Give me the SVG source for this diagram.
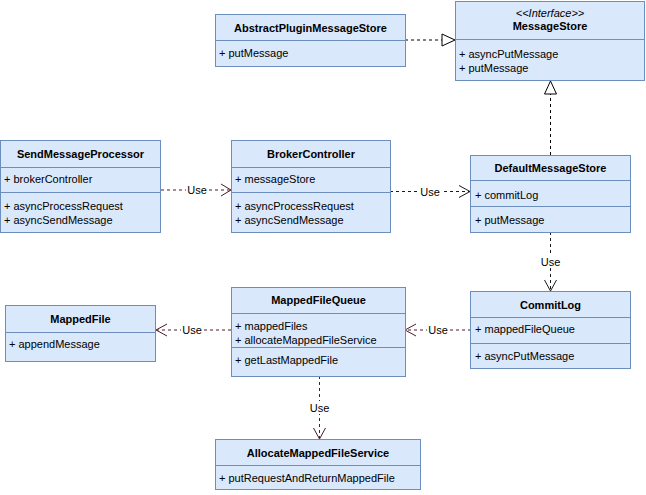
<svg xmlns="http://www.w3.org/2000/svg" width="646" height="495" viewBox="0 0 646 495">
<defs>
<style>
.box{fill:#dae8fc;stroke:#6c8ebf;stroke-width:1}
.div{stroke:#6c8ebf;stroke-width:1}
.t{font-family:"Liberation Sans",Arial,sans-serif;font-size:11px;font-weight:bold;fill:#000;text-anchor:middle}
.m{font-family:"Liberation Sans",Arial,sans-serif;font-size:11px;fill:#000}
.i{font-family:"Liberation Sans",Arial,sans-serif;font-size:11px;font-style:italic;fill:#000;text-anchor:middle}
.use{fill:none;stroke:#4d1a2b;stroke-width:1;stroke-dasharray:3 3}
.useb{fill:none;stroke:#1a1a1a;stroke-width:1;stroke-dasharray:3 3}
.head{fill:none;stroke:#4d1a2b;stroke-width:1}
.headb{fill:none;stroke:#1a1a1a;stroke-width:1}
.real{fill:none;stroke:#000;stroke-width:1;stroke-dasharray:3 3}
.tri{fill:#fff;stroke:#000;stroke-width:1}
.lbl{font-family:"Liberation Sans",Arial,sans-serif;font-size:11px;fill:#000;text-anchor:middle}
.lb{fill:#fff}
</style>
</defs>
<rect width="646" height="495" fill="#fff"/>

<g id="connectors">
<path class="real" d="M405,40 H442"/>
<path class="tri" d="M442,34 L455,40 L442,46 Z"/>
<path class="real" d="M550.5,155 V94"/>
<path class="tri" d="M544.5,94 L550.5,81 L556.5,94 Z"/>
<path class="use" d="M161,190 H230"/>
<path class="head" d="M221,184 L231,190 L221,196"/>
<rect class="lb" x="186" y="183" width="22" height="13"/>
<text class="lbl" x="197" y="194">Use</text>
<path class="useb" d="M390,191.5 H469"/>
<path class="headb" d="M459,185.5 L470,191.5 L459,197.5"/>
<rect class="lb" x="419" y="185" width="22" height="13"/>
<text class="lbl" x="430" y="196">Use</text>
<path class="useb" d="M550.5,232 V290"/>
<path class="headb" d="M544.5,280 L550.5,291 L556.5,280"/>
<rect class="lb" x="539" y="255" width="23" height="13"/>
<text class="lbl" x="550.5" y="266">Use</text>
<path class="use" d="M471,330 H406"/>
<path class="head" d="M416,324 L405,330 L416,336"/>
<rect class="lb" x="427" y="323" width="22" height="13"/>
<text class="lbl" x="438" y="334">Use</text>
<path class="use" d="M231,330 H157"/>
<path class="head" d="M167,324 L156,330 L167,336"/>
<rect class="lb" x="181" y="323" width="22" height="13"/>
<text class="lbl" x="192" y="334">Use</text>
<path class="use" d="M319.5,376 V438"/>
<path class="head" d="M313.5,428 L319.5,439 L325.5,428"/>
<rect class="lb" x="308" y="401" width="23" height="13"/>
<text class="lbl" x="319.5" y="412">Use</text>
</g>

<g id="AbstractPluginMessageStore">
<rect class="box" x="215.5" y="14.5" width="190" height="52"/>
<line class="div" x1="215.5" y1="40.5" x2="405.5" y2="40.5"/>
<text class="t" x="310.5" y="32">AbstractPluginMessageStore</text>
<text class="m" x="219" y="57">+ putMessage</text>
</g>

<g id="MessageStore">
<rect class="box" x="455.5" y="1.5" width="189" height="79"/>
<line x1="455.5" y1="39.5" x2="644.5" y2="39.5" stroke="#8c8c8c" stroke-width="1"/>
<text class="i" x="550" y="17">&lt;&lt;Interface&gt;&gt;</text>
<text class="t" x="550" y="30">MessageStore</text>
<text class="m" x="459" y="58">+ asyncPutMessage</text>
<text class="m" x="459" y="72">+ putMessage</text>
</g>

<g id="SendMessageProcessor">
<rect class="box" x="0.5" y="140.5" width="160" height="92"/>
<line class="div" x1="0.5" y1="167.5" x2="160.5" y2="167.5"/>
<line class="div" x1="0.5" y1="192.5" x2="160.5" y2="192.5"/>
<text class="t" x="80.5" y="158">SendMessageProcessor</text>
<text class="m" x="4" y="183">+ brokerController</text>
<text class="m" x="4" y="210">+ asyncProcessRequest</text>
<text class="m" x="4" y="224">+ asyncSendMessage</text>
</g>

<g id="BrokerController">
<rect class="box" x="231.5" y="140.5" width="159" height="92"/>
<line class="div" x1="231.5" y1="167.5" x2="390.5" y2="167.5"/>
<line class="div" x1="231.5" y1="192.5" x2="390.5" y2="192.5"/>
<text class="t" x="311" y="158">BrokerController</text>
<text class="m" x="235" y="183">+ messageStore</text>
<text class="m" x="235" y="210">+ asyncProcessRequest</text>
<text class="m" x="235" y="224">+ asyncSendMessage</text>
</g>

<g id="DefaultMessageStore">
<rect class="box" x="470.5" y="155.5" width="160" height="77"/>
<line class="div" x1="470.5" y1="180.5" x2="630.5" y2="180.5"/>
<line class="div" x1="470.5" y1="206.5" x2="630.5" y2="206.5"/>
<text class="t" x="550.5" y="172">DefaultMessageStore</text>
<text class="m" x="475" y="199">+ commitLog</text>
<text class="m" x="475" y="224">+ putMessage</text>
</g>

<g id="MappedFile">
<rect class="box" x="5.5" y="305.5" width="150" height="56"/>
<line class="div" x1="5.5" y1="332.5" x2="155.5" y2="332.5"/>
<text class="t" x="80.5" y="323">MappedFile</text>
<text class="m" x="9" y="348">+ appendMessage</text>
</g>

<g id="MappedFileQueue">
<rect class="box" x="231.5" y="287.5" width="174" height="89"/>
<line class="div" x1="231.5" y1="313.5" x2="405.5" y2="313.5"/>
<line class="div" x1="231.5" y1="347.5" x2="405.5" y2="347.5"/>
<text class="t" x="318.5" y="304">MappedFileQueue</text>
<text class="m" x="235" y="330">+ mappedFiles</text>
<text class="m" x="235" y="344">+ allocateMappedFileService</text>
<text class="m" x="235" y="364">+ getLastMappedFile</text>
</g>

<g id="CommitLog">
<rect class="box" x="470.5" y="291.5" width="160" height="77"/>
<line class="div" x1="470.5" y1="317.5" x2="630.5" y2="317.5"/>
<line class="div" x1="470.5" y1="343.5" x2="630.5" y2="343.5"/>
<text class="t" x="550.5" y="309">CommitLog</text>
<text class="m" x="475" y="333">+ mappedFileQueue</text>
<text class="m" x="475" y="360">+ asyncPutMessage</text>
</g>

<g id="AllocateMappedFileService">
<rect class="box" x="215.5" y="439.5" width="205" height="50"/>
<line class="div" x1="215.5" y1="465.5" x2="420.5" y2="465.5"/>
<text class="t" x="318" y="457">AllocateMappedFileService</text>
<text class="m" x="219" y="482">+ putRequestAndReturnMappedFile</text>
</g>
</svg>
